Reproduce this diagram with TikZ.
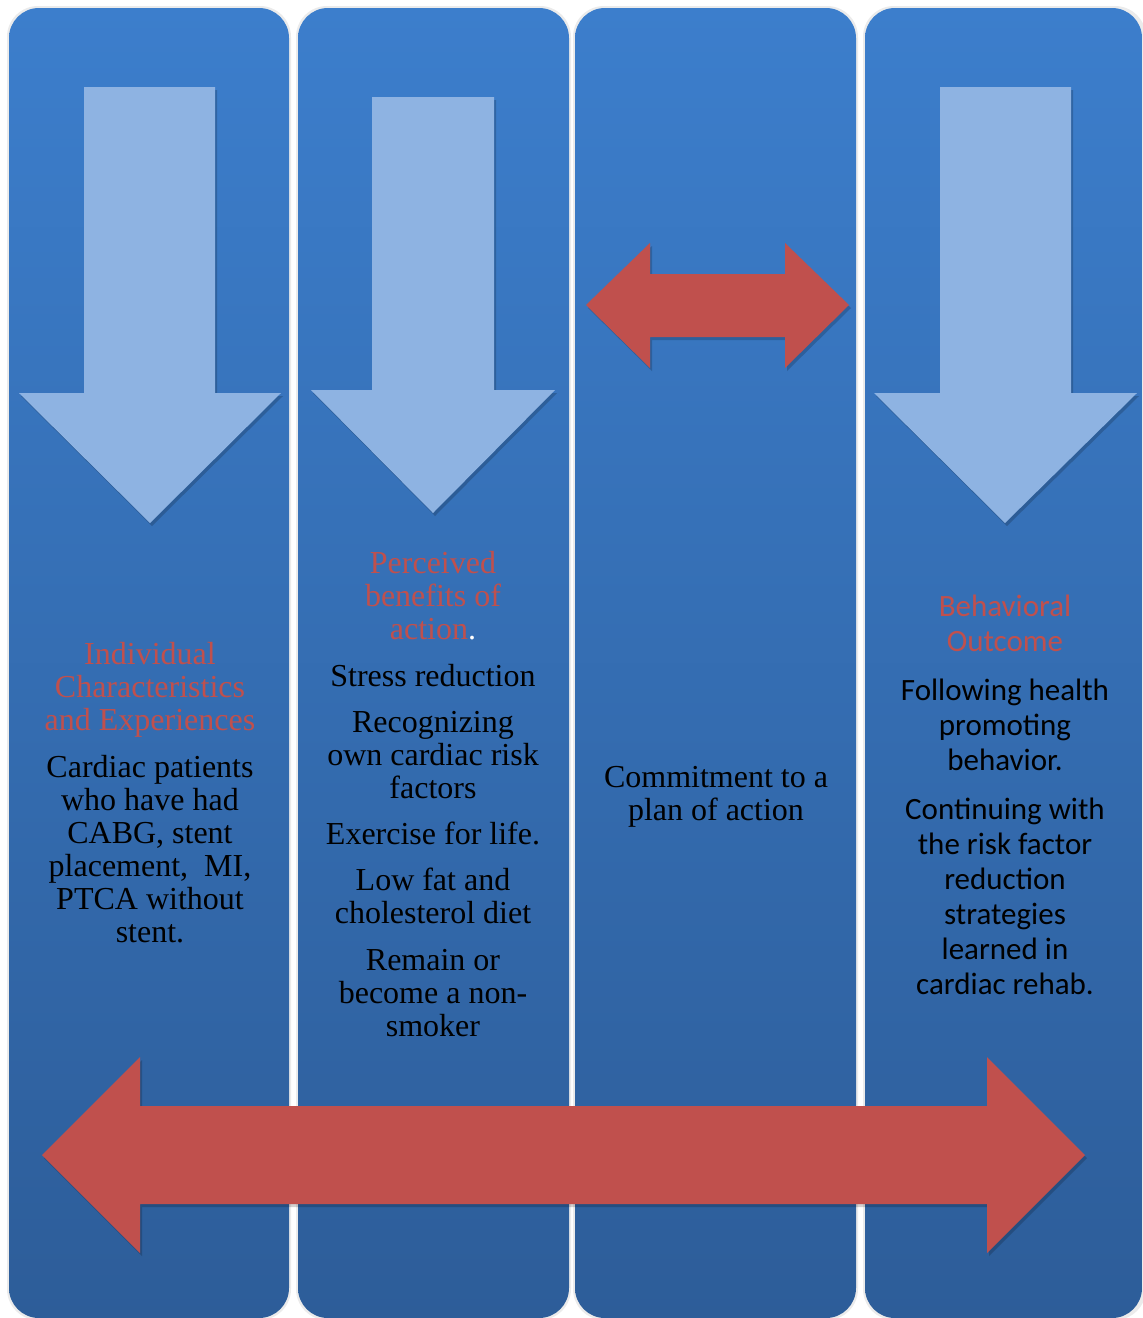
\documentclass[tikz,border=0pt]{standalone}
\usepackage{fontspec}
\setmainfont{Liberation Serif}
\newfontfamily\calibrifont{Carlito}
\definecolor{colTop}{RGB}{60,126,204}
\definecolor{colBot}{RGB}{45,93,153}
\definecolor{lightArrow}{RGB}{142,179,226}
\definecolor{redArrow}{RGB}{192,80,77}
\definecolor{titleRed}{RGB}{192,80,77}
\newcommand\rt[1]{\textcolor{titleRed}{#1}}
\begin{document}
\begin{tikzpicture}[x=1pt,y=-1pt,
  column/.style={top color=colTop,bottom color=colBot,rounded corners=30pt},
  colshadow/.style={fill=black,opacity=0.08,rounded corners=31pt},
  downarrow/.style={fill=lightArrow},
  redarrow/.style={fill=redArrow},
  arrowshadow/.style={fill=black,opacity=0.18},
  serifbox/.style={align=center,inner sep=0pt,text=black,font=\fontsize{32pt}{33pt}\selectfont},
  sansbox/.style={align=center,inner sep=0pt,text=black,font=\calibrifont\fontsize{31pt}{35pt}\selectfont}]
\useasboundingbox (0,0) rectangle (1143,1318);
\fill[white] (0,0) rectangle (1143,1318);
% column shadows
\fill[colshadow] (7,6) rectangle (291,1320);
\fill[colshadow] (296,6) rectangle (571,1320);
\fill[colshadow] (573,6) rectangle (858,1320);
\fill[colshadow] (863,6) rectangle (1146,1320);
% columns
\shade[column] (9,8) rectangle (289,1318);
\shade[column] (298,8) rectangle (569,1318);
\shade[column] (575,8) rectangle (856,1318);
\shade[column] (865,8) rectangle (1142,1318);
% arrow shadows
\begin{scope}[shift={(2,3)}]
\fill[arrowshadow] (84,87) -- (215,87) -- (215,393) -- (281,393) -- (150,523) -- (19,393) -- (84,393) -- cycle;
\fill[arrowshadow] (372,97) -- (494,97) -- (494,390) -- (555,390) -- (433,513) -- (311,390) -- (372,390) -- cycle;
\fill[arrowshadow] (940,87) -- (1071,87) -- (1071,393) -- (1137,393) -- (1005,523) -- (874,393) -- (940,393) -- cycle;
\fill[arrowshadow] (586,305) -- (650,243) -- (650,274) -- (785,274) -- (785,243) -- (849,305) -- (785,368) -- (785,337) -- (650,337) -- (650,368) -- cycle;
\fill[arrowshadow] (42,1155) -- (140,1057) -- (140,1106) -- (987,1106) -- (987,1057) -- (1085,1155) -- (987,1253) -- (987,1204) -- (140,1204) -- (140,1253) -- cycle;
\end{scope}
% down arrows
\fill[downarrow] (84,87) -- (215,87) -- (215,393) -- (281,393) -- (150,523) -- (19,393) -- (84,393) -- cycle;
\fill[downarrow] (372,97) -- (494,97) -- (494,390) -- (555,390) -- (433,513) -- (311,390) -- (372,390) -- cycle;
\fill[downarrow] (940,87) -- (1071,87) -- (1071,393) -- (1137,393) -- (1005,523) -- (874,393) -- (940,393) -- cycle;
% red double arrows
\fill[redarrow] (586,305) -- (650,243) -- (650,274) -- (785,274) -- (785,243) -- (849,305) -- (785,368) -- (785,337) -- (650,337) -- (650,368) -- cycle;
\fill[redarrow] (42,1155) -- (140,1057) -- (140,1106) -- (987,1106) -- (987,1057) -- (1085,1155) -- (987,1253) -- (987,1204) -- (140,1204) -- (140,1253) -- cycle;
% texts
\node[serifbox] (c1text) at (150,793) {\rt{Individual}\\\rt{Characteristics}\\\rt{and Experiences}\\[14pt]
Cardiac patients\\who have had\\CABG, stent\\placement, \ MI,\\PTCA without\\stent.};
\node[serifbox] (c2text) at (433,794) {\rt{Perceived}\\\rt{benefits of}\\\rt{action}\textcolor{white}{.}\\[14pt]
Stress reduction\\[13pt]
Recognizing\\own cardiac risk\\factors\\[13pt]
Exercise for life.\\[13pt]
Low fat and\\cholesterol diet\\[14pt]
Remain or\\become a non-\\smoker};
\node[serifbox] (c3text) at (716,797) {Commitment to a\\plan of action};
\node[sansbox] (c4text) at (1005,795) {\rt{Behavioral}\\\rt{Outcome}\\[14pt]
Following health\\promoting\\behavior.\\[14pt]
Continuing with\\the risk factor\\reduction\\strategies\\learned in\\cardiac rehab.};
\end{tikzpicture}
\end{document}
